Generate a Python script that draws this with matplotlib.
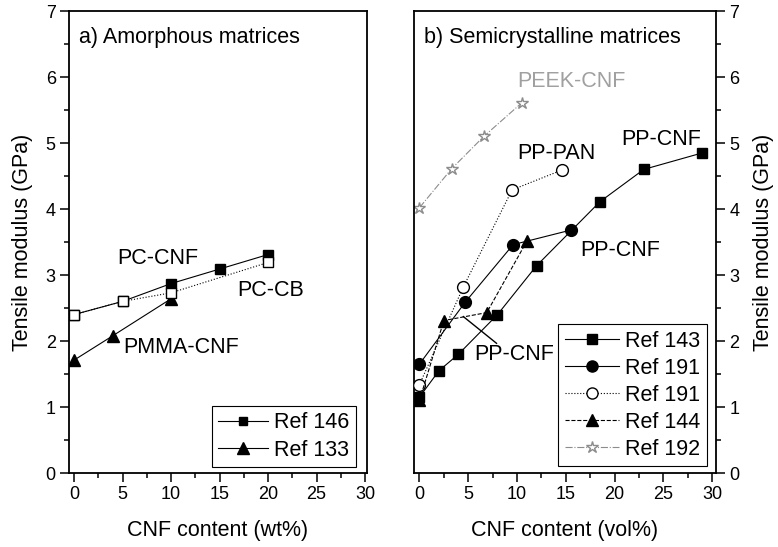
import matplotlib
matplotlib.use("Agg")
import matplotlib.pyplot as plt
from matplotlib.ticker import MultipleLocator
from matplotlib.lines import Line2D

plt.rcParams["font.family"] = ["Liberation Sans", "DejaVu Sans"]

# ---- a) amorphous matrices (wt%) ----
pc_cnf_x = [0, 5, 10, 15, 20]
pc_cnf_y = [2.40, 2.60, 2.87, 3.09, 3.31]
pc_cb_x = [0, 5, 10, 20]
pc_cb_y = [2.40, 2.60, 2.73, 3.19]
pmma_x = [0, 4, 10]
pmma_y = [1.71, 2.08, 2.64]

# ---- b) semicrystalline matrices (vol%) ----
ref143_x = [0, 2, 4, 8, 12, 18.5, 23, 29]
ref143_y = [1.15, 1.55, 1.80, 2.40, 3.14, 4.11, 4.60, 4.85]
ref191_x = [0, 4.7, 9.6, 15.5]
ref191_y = [1.65, 2.59, 3.46, 3.68]
ref191o_x = [0, 4.5, 9.5, 14.6]
ref191o_y = [1.34, 2.82, 4.29, 4.59]
ref144_x = [0, 2.5, 6.9, 11]
ref144_y = [1.10, 2.31, 2.43, 3.51]
ref192_x = [0, 3.3, 6.6, 10.5]
ref192_y = [4.02, 4.61, 5.10, 5.61]

GREY = "#8c8c8c"
FS = 15.5      # annotation / label size
TFS = 13       # tick label size

fig = plt.figure(figsize=(7.78, 5.47), dpi=100)
W, H = 778, 547


def add_axes(l, r, t, b):
    return fig.add_axes([l / W, 1 - b / H, (r - l) / W, (b - t) / H])


axa = add_axes(69, 367, 11, 473)
axb = add_axes(414, 716, 11, 473)

for ax in (axa, axb):
    for s in ax.spines.values():
        s.set_linewidth(1.3)
    ax.set_ylim(0, 7)
    ax.xaxis.set_major_locator(MultipleLocator(5))
    ax.xaxis.set_minor_locator(MultipleLocator(2.5))
    ax.yaxis.set_major_locator(MultipleLocator(1))
    ax.yaxis.set_minor_locator(MultipleLocator(0.5))
    ax.tick_params(which="major", direction="out", length=6.5, width=1.1,
                   labelsize=TFS, pad=3)
    ax.tick_params(which="minor", direction="out", length=3.6, width=1.1)
    ax.tick_params(top=False, which="both")
    ax.set_xlabel("CNF content (%s)" % ("wt%" if ax is axa else "vol%"),
                  fontsize=FS, labelpad=12)

axa.set_xlim(-0.52, 30.2)
axb.set_xlim(-0.56, 30.4)

axa.tick_params(which="both", right=False)
axb.tick_params(which="both", left=False, labelleft=False, right=True, labelright=True)
axb.yaxis.set_label_position("right")

axa.set_ylabel("Tensile modulus (GPa)", fontsize=FS, labelpad=9)
axb.set_ylabel("Tensile modulus (GPa)", fontsize=FS, labelpad=10)

lw = 0.8
# panel a
axa.plot(pc_cnf_x, pc_cnf_y, "-", color="black", lw=lw, marker="s", ms=7,
         mfc="black", mec="black", zorder=3)
axa.plot(pc_cb_x, pc_cb_y, ":", color="black", lw=lw, marker="s", ms=7,
         mfc="white", mec="black", zorder=4)
axa.plot(pmma_x, pmma_y, "-", color="black", lw=lw, marker="^", ms=9,
         mfc="black", mec="black", zorder=3)

axa.text(0.5, 6.6, "a) Amorphous matrices", fontsize=FS, va="center", ha="left")
axa.text(4.5, 3.25, "PC-CNF", fontsize=FS, va="center", ha="left")
axa.text(16.8, 2.77, "PC-CB", fontsize=FS, va="center", ha="left")
axa.text(5.1, 1.9, "PMMA-CNF", fontsize=FS, va="center", ha="left")

leg_a = [
    Line2D([], [], color="black", lw=lw, marker="s", ms=6, mfc="black", mec="black"),
    Line2D([], [], color="black", lw=lw, marker="^", ms=8, mfc="black", mec="black"),
]
la = axa.legend(leg_a, ["Ref 146", "Ref 133"], loc="lower right",
                bbox_to_anchor=(0.963, 0.013), borderaxespad=0, fontsize=FS,
                frameon=True, fancybox=False, edgecolor="black", framealpha=1,
                handlelength=2.3, handletextpad=0.3, labelspacing=0.3,
                borderpad=0.3)
la.get_frame().set_linewidth(0.8)

# panel b
axb.plot(ref192_x, ref192_y, "-.", color=GREY, lw=lw, marker="*", ms=9,
         mfc="white", mec=GREY, zorder=2)
axb.plot(ref191o_x, ref191o_y, ":", color="black", lw=lw, marker="o", ms=8.5,
         mfc="white", mec="black", zorder=3)
axb.plot(ref143_x, ref143_y, "-", color="black", lw=lw, marker="s", ms=7.5,
         mfc="black", mec="black", zorder=4)
axb.plot(ref191_x, ref191_y, "-", color="black", lw=lw, marker="o", ms=8.5,
         mfc="black", mec="black", zorder=4)
axb.plot(ref144_x, ref144_y, "--", color="black", lw=lw, marker="^", ms=9,
         mfc="black", mec="black", zorder=5)

axb.text(0.5, 6.6, "b) Semicrystalline matrices", fontsize=FS, va="center", ha="left")
axb.text(10.0, 5.93, "PEEK-CNF", fontsize=FS, va="center", ha="left", color="#a0a0a0")
axb.text(10.0, 4.84, "PP-PAN", fontsize=FS, va="center", ha="left")
axb.text(20.7, 5.06, "PP-CNF", fontsize=FS, va="center", ha="left")
axb.text(16.5, 3.37, "PP-CNF", fontsize=FS, va="center", ha="left")
axb.text(5.6, 1.79, "PP-CNF", fontsize=FS, va="center", ha="left")
axb.plot([4.5, 7.9], [2.37, 1.965], "-", color="black", lw=1.0, zorder=2)

leg_b = [
    Line2D([], [], color="black", lw=lw, ls="-", marker="s", ms=7, mfc="black", mec="black"),
    Line2D([], [], color="black", lw=lw, ls="-", marker="o", ms=8, mfc="black", mec="black"),
    Line2D([], [], color="black", lw=lw, ls=":", marker="o", ms=8, mfc="white", mec="black"),
    Line2D([], [], color="black", lw=lw, ls="--", marker="^", ms=8.5, mfc="black", mec="black"),
    Line2D([], [], color=GREY, lw=lw, ls="-.", marker="*", ms=9, mfc="white", mec=GREY),
]
lb = axb.legend(leg_b, ["Ref 143", "Ref 191", "Ref 191", "Ref 144", "Ref 192"],
                loc="lower right", bbox_to_anchor=(0.97, 0.015), borderaxespad=0,
                fontsize=FS, frameon=True, fancybox=False, edgecolor="black",
                framealpha=1, handlelength=2.5, handletextpad=0.3,
                labelspacing=0.28, borderpad=0.3)
lb.get_frame().set_linewidth(0.8)

fig.savefig("out.png", dpi=100)
